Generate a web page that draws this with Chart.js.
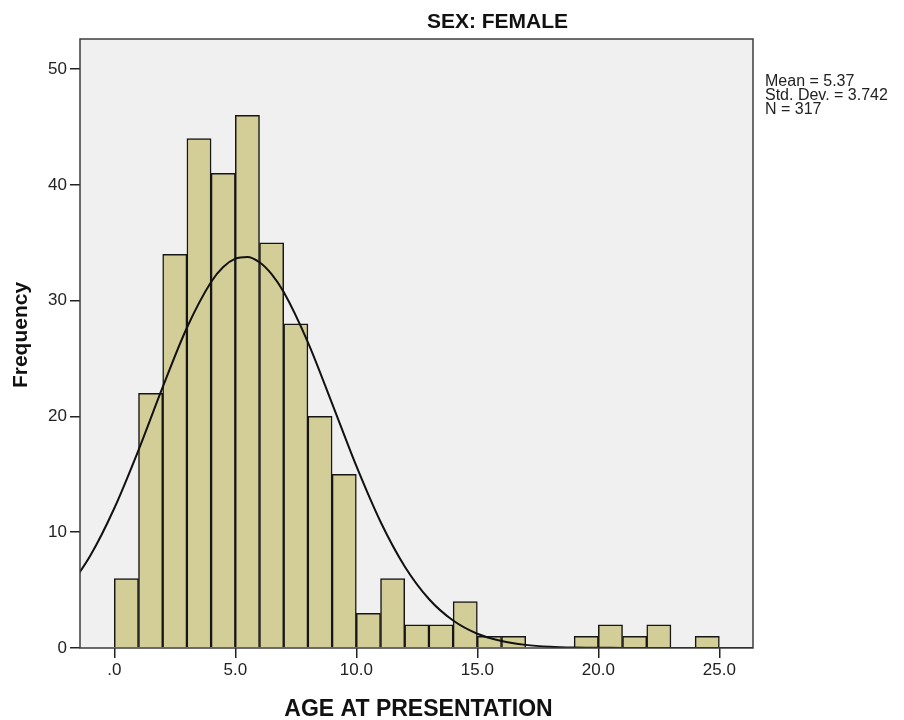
<!DOCTYPE html>
<html><head><meta charset="utf-8">
<script src="https://cdn.jsdelivr.net/npm/chart.js@4/dist/chart.umd.min.js"></script>
<style>html,body{margin:0;padding:0;background:#fff;}#wrap{width:904px;height:720px;}</style>
</head><body><div id="wrap"><canvas id="c" width="904" height="720"></canvas></div>
<script>
const chartTitle = 'SEX: FEMALE';
const xAxisTitle = 'AGE AT PRESENTATION';
const yAxisTitle = 'Frequency';
const statsLines = ['Mean = 5.37', 'Std. Dev. = 3.742', 'N = 317'];

// histogram bins (start of each 1-year bin) and counts
const binStarts = [0,1,2,3,4,5,6,7,8,9,10,11,12,13,14,15,16,17,18,19,20,21,22,23,24];
const counts    = [6,22,34,44,41,46,35,28,20,15,3,6,2,2,4,1,1,0,0,1,2,1,2,0,1];

// fitted normal curve
const curveX = [-2,-1,0,1,2,3,4,4.5,5,5.5,6,6.5,7,8,9,10,11,12,13,14,15,16,17,18,19,20,21,22,27];
const curveY = [4.86,7.94,12.07,17.09,22.53,27.66,31.61,32.90,33.63,33.78,33.32,32.29,30.74,26.40,21.11,15.72,10.90,7.04,4.23,2.37,1.23,0.60,0.27,0.11,0.04,0.02,0.01,0,0];

const xTickValues = [0,5,10,15,20,25];
const xTickLabels = ['.0','5.0','10.0','15.0','20.0','25.0'];
const yTickValues = [0,10,20,30,40,50];
const yTickLabels = ['0','10','20','30','40','50'];

const FONT = "'Liberation Sans', Arial, sans-serif";

const barData = binStarts.map((b, i) => ({ x: b + 0.5, y: counts[i] }));
const curveData = curveX.map((x, i) => ({ x: x, y: curveY[i] }));

const decor = {
  id: 'decor',
  beforeDraw(chart) {
    const { ctx, chartArea: a } = chart;
    ctx.save();
    ctx.fillStyle = '#ffffff';
    ctx.fillRect(0, 0, chart.width, chart.height);
    ctx.fillStyle = '#f0f0f0';
    ctx.fillRect(a.left, a.top, a.right - a.left, a.bottom - a.top);
    ctx.restore();
  },
  afterDatasetsDraw(chart) {
    const { ctx, chartArea: a } = chart;
    ctx.save();
    ctx.strokeStyle = '#3c3c3c';
    ctx.lineWidth = 1.5;
    ctx.strokeRect(a.left, a.top, a.right - a.left, a.bottom - a.top);
    ctx.restore();
  },
  afterDraw(chart) {
    const { ctx, chartArea: a } = chart;
    ctx.save();
    ctx.fillStyle = '#111';
    ctx.textBaseline = 'alphabetic';
    ctx.textAlign = 'center';
    ctx.font = 'bold 21px ' + FONT;
    ctx.fillText(chartTitle, 497.5, 28);
    ctx.font = 'bold 23px ' + FONT;
    ctx.fillText(xAxisTitle, (a.left + a.right) / 2 + 2, 716);
    ctx.save();
    ctx.translate(27, 335);
    ctx.rotate(-Math.PI / 2);
    ctx.font = 'bold 21px ' + FONT;
    ctx.fillText(yAxisTitle, 0, 0);
    ctx.restore();
    ctx.textAlign = 'left';
    ctx.font = '16px ' + FONT;
    ctx.fillStyle = '#222';
    statsLines.forEach((s, i) => ctx.fillText(s, 765, 86 + i * 14));
    ctx.restore();
  }
};

new Chart(document.getElementById('c'), {
  type: 'bar',
  data: {
    datasets: [
      {
        type: 'line',
        data: curveData,
        borderColor: '#111',
        borderWidth: 2,
        pointRadius: 0,
        fill: false,
        cubicInterpolationMode: 'monotone',
        order: 0
      },
      {
        type: 'bar',
        data: barData,
        backgroundColor: '#d3ce98',
        borderColor: '#161616',
        borderWidth: 1.5,
        barPercentage: 1,
        categoryPercentage: 1,
        order: 1
      }
    ]
  },
  options: {
    responsive: false,
    devicePixelRatio: 1,
    animation: false,
    layout: { padding: { left: 0, right: 151, top: 39, bottom: 0 } },
    plugins: { legend: { display: false }, tooltip: { enabled: false }, title: { display: false } },
    scales: {
      x: {
        type: 'linear',
        offset: false,
        min: -1.417,
        max: 26.39,
        afterFit(s) { s.height = 72; },
        afterBuildTicks(s) { s.ticks = xTickValues.map(v => ({ value: v })); },
        grid: { offset: false, drawOnChartArea: false, drawTicks: true, tickLength: 10, color: '#222', lineWidth: 1.5 },
        border: { display: false },
        ticks: {
          padding: 2,
          color: '#222',
          font: { family: FONT, size: 17 },
          maxRotation: 0,
          autoSkip: false,
          callback(v) { const i = xTickValues.indexOf(v); return i >= 0 ? xTickLabels[i] : ''; }
        }
      },
      y: {
        type: 'linear',
        min: 0,
        max: 52.6,
        afterFit(s) { s.width = 80; },
        afterBuildTicks(s) { s.ticks = yTickValues.map(v => ({ value: v })); },
        grid: { drawOnChartArea: false, drawTicks: true, tickLength: 10, color: '#222', lineWidth: 1.5 },
        border: { display: false },
        ticks: {
          padding: 3,
          color: '#222',
          font: { family: FONT, size: 17 },
          autoSkip: false,
          callback(v) { const i = yTickValues.indexOf(v); return i >= 0 ? yTickLabels[i] : ''; }
        }
      }
    }
  },
  plugins: [decor]
});
</script></body></html>
